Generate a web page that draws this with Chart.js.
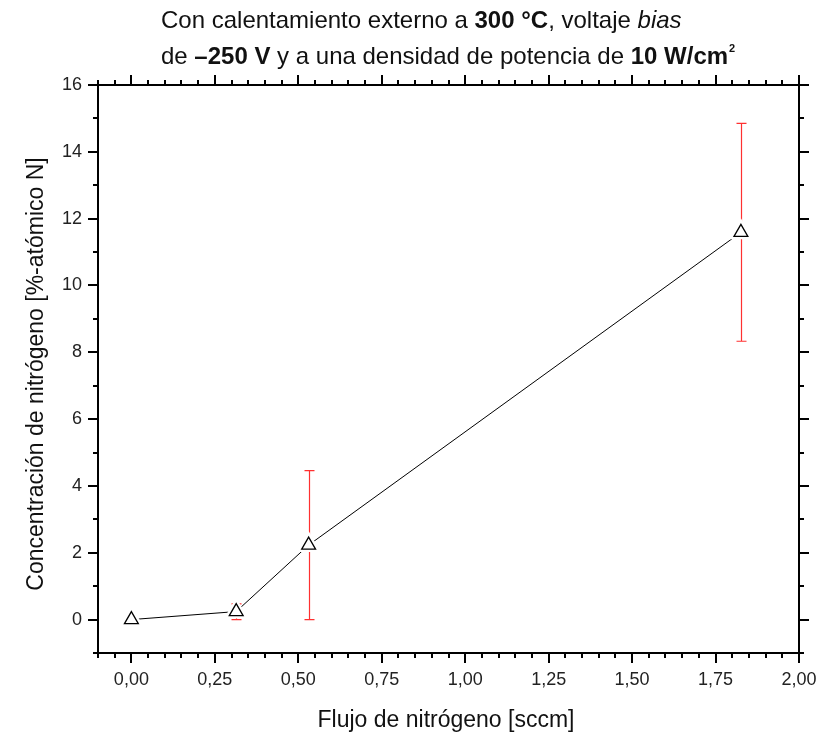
<!DOCTYPE html>
<html>
<head>
<meta charset="utf-8">
<script src="https://cdn.jsdelivr.net/npm/chart.js@4"></script>
<style>
  html, body { margin: 0; padding: 0; background: #fff; }
  canvas { display: block; }
</style>
</head>
<body>
<canvas id="chart" width="820" height="736"></canvas>
<script>
// Nitrogen flow (sccm) vs. nitrogen concentration (at.% N)
const flow = [0.00, 0.314, 0.531, 1.826];
const nitrogen = [0.00, 0.24, 2.23, 11.59];
const errUp = [0.00, 0.23, 2.23, 3.26];
const errDown = [0.00, 0.24, 2.23, 3.26];

const xTicks = [0, 0.25, 0.5, 0.75, 1.0, 1.25, 1.5, 1.75, 2.0];
const yTicks = [0, 2, 4, 6, 8, 10, 12, 14, 16];

const titleLine1 = [
  { text: 'Con calentamiento externo a ', style: '' },
  { text: '300 °C', style: 'bold' },
  { text: ', voltaje ', style: '' },
  { text: 'bias', style: 'italic' }
];
const titleLine2 = [
  { text: 'de ', style: '' },
  { text: '–250 V', style: 'bold' },
  { text: ' y a una densidad de potencia de ', style: '' },
  { text: '10 W/cm', style: 'bold' },
  { text: '2', style: 'bold', sup: true }
];
const xTitle = 'Flujo de nitrógeno [sccm]';
const yTitle = 'Concentración de nitrógeno [%-atómico N]';

const FONT = '"Liberation Sans", Arial, sans-serif';

function fmtComma(v) { return v.toFixed(2).replace('.', ','); }

function drawRuns(ctx, runs, x, y, size) {
  ctx.textBaseline = 'alphabetic';
  ctx.textAlign = 'left';
  let cx = x;
  for (const r of runs) {
    const s = r.sup ? Math.round(size * 0.45) : size;
    ctx.font = (r.style ? r.style + ' ' : '') + s + 'px ' + FONT;
    const dy = r.sup ? -size * 0.5 : 0;
    ctx.fillText(r.text, cx + (r.sup ? 1 : 0), y + dy);
    cx += ctx.measureText(r.text).width;
  }
}

const frameAndDecor = {
  id: 'frameAndDecor',
  beforeDatasetsDraw(chart) {
    // error bars, drawn beneath the line and markers
    const ctx = chart.ctx;
    const xs = chart.scales.x, ys = chart.scales.y;
    ctx.save();
    ctx.strokeStyle = '#ff3030';
    ctx.lineWidth = 1.2;
    for (let i = 0; i < flow.length; i++) {
      if (errUp[i] === 0 && errDown[i] === 0) continue;
      const px = Math.round(xs.getPixelForValue(flow[i])) + 0.5;
      const top = ys.getPixelForValue(nitrogen[i] + errUp[i]);
      const bot = ys.getPixelForValue(nitrogen[i] - errDown[i]);
      ctx.beginPath();
      ctx.moveTo(px, top); ctx.lineTo(px, bot);
      ctx.moveTo(px - 5, top); ctx.lineTo(px + 5, top);
      ctx.moveTo(px - 5, bot); ctx.lineTo(px + 5, bot);
      ctx.stroke();
    }
    ctx.restore();
  },
  afterDraw(chart) {
    const ctx = chart.ctx;
    const a = chart.chartArea;
    const xs = chart.scales.x, ys = chart.scales.y;
    ctx.save();
    ctx.strokeStyle = '#000';
    ctx.lineWidth = 2;
    ctx.strokeRect(a.left, a.top, a.right - a.left, a.bottom - a.top);

    // x ticks, outward on bottom and top
    ctx.beginPath();
    for (let k = -2; k <= 40; k++) {
      const v = k * 0.05;
      const px = Math.round(xs.getPixelForValue(v));
      const len = (k % 5 === 0) ? 10 : 5;
      ctx.moveTo(px, a.bottom); ctx.lineTo(px, a.bottom + len);
      ctx.moveTo(px, a.top); ctx.lineTo(px, a.top - len);
    }
    // y ticks, outward on left and right
    for (let v = -1; v <= 16; v++) {
      const py = Math.round(ys.getPixelForValue(v));
      const len = (v % 2 === 0) ? 10 : 5;
      ctx.moveTo(a.left, py); ctx.lineTo(a.left - len, py);
      ctx.moveTo(a.right, py); ctx.lineTo(a.right + len, py);
    }
    ctx.stroke();

    // titles
    ctx.fillStyle = '#111';
    drawRuns(ctx, titleLine1, 161, 28, 24);
    drawRuns(ctx, titleLine2, 161, 64, 24);

    ctx.font = '23px ' + FONT;
    ctx.textAlign = 'center';
    ctx.textBaseline = 'alphabetic';
    ctx.fillText(xTitle, 446, 727);
    ctx.translate(43, 374);
    ctx.rotate(-Math.PI / 2);
    ctx.fillText(yTitle, 0, 0);
    ctx.restore();
  }
};

const points = flow.map((x, i) => ({ x: x, y: nitrogen[i] }));

new Chart(document.getElementById('chart'), {
  type: 'scatter',
  data: {
    datasets: [
      {
        data: points, showLine: true, borderColor: '#000', borderWidth: 1,
        pointRadius: 0, order: 3
      },
      {
        data: points, showLine: false, pointStyle: 'triangle', pointRadius: 8,
        pointBorderColor: '#fff', pointBackgroundColor: '#fff', pointBorderWidth: 6, order: 2
      },
      {
        data: points, showLine: false, pointStyle: 'triangle', pointRadius: 8,
        pointBorderColor: '#000', pointBackgroundColor: '#fff', pointBorderWidth: 1.3, order: 1
      }
    ]
  },
  options: {
    responsive: false,
    animation: false,
    devicePixelRatio: 1,
    layout: { padding: { top: 85, right: 21, left: 0, bottom: 0 } },
    plugins: { legend: { display: false }, tooltip: { enabled: false } },
    scales: {
      x: {
        type: 'linear', min: -0.1, max: 2.0,
        grid: { display: false, drawTicks: false, tickLength: 0 },
        border: { display: false },
        afterBuildTicks: s => { s.ticks = xTicks.map(v => ({ value: v })); },
        afterFit: s => { s.height = 83; s.paddingLeft = 0; s.paddingRight = 0; },
        ticks: {
          padding: 16, autoSkip: false, maxRotation: 0,
          font: { family: FONT, size: 18 }, color: '#222',
          callback: v => fmtComma(v)
        }
      },
      y: {
        type: 'linear', min: -1, max: 16,
        grid: { display: false, drawTicks: false, tickLength: 0 },
        border: { display: false },
        afterBuildTicks: s => { s.ticks = yTicks.map(v => ({ value: v })); },
        afterFit: s => { s.width = 98; s.paddingTop = 0; s.paddingBottom = 0; },
        ticks: {
          padding: 16, autoSkip: false,
          font: { family: FONT, size: 18 }, color: '#222',
          callback: v => String(v)
        }
      }
    }
  },
  plugins: [frameAndDecor]
});
</script>
</body>
</html>
